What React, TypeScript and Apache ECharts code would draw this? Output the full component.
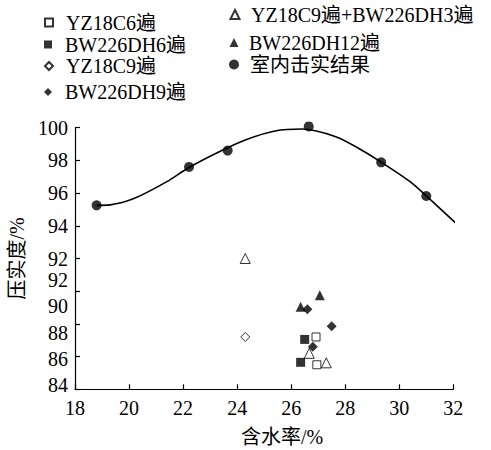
import React, { useEffect, useRef } from "react";
import * as echarts from "echarts";

// ---- data ----
const legendNames = [
  "YZ18C6遍",
  "BW226DH6遍",
  "YZ18C9遍",
  "BW226DH9遍",
  "YZ18C9遍+BW226DH3遍",
  "BW226DH12遍",
  "室内击实结果",
];

const yz18c6 = [
  [26.92, 87.2],
  [26.95, 85.5],
];
const bw226dh6 = [
  [26.5, 87.05],
  [26.35, 85.65],
];
const yz18c9 = [[24.3, 87.2]];
const bw226dh9 = [
  [26.6, 88.9],
  [27.5, 87.85],
  [26.8, 86.6],
];
const yz18c9bw3 = [
  [24.3, 92.0],
  [26.67, 86.2],
  [27.3, 85.62],
];
const bw226dh12 = [
  [26.35, 89.05],
  [27.06, 89.75],
];
const compaction = [
  [18.8, 95.25],
  [22.22, 97.6],
  [23.65, 98.6],
  [26.65, 100.08],
  [29.33, 97.88],
  [31.0, 95.82],
];
const fitCurve = [
  [18.8, 95.25],
  [19.3, 95.28],
  [20.2, 95.68],
  [21.4, 96.7],
  [22.2, 97.55],
  [23.3, 98.5],
  [24.3, 99.25],
  [25.4, 99.8],
  [26.4, 99.92],
  [27.65, 99.45],
  [28.6, 98.64],
  [29.4, 97.82],
  [30.4, 96.7],
  [31.1, 95.68],
  [32.1, 94.15],
];
const yTickLabels = ["100", "98", "96", "94", "92", "92", "90", "88", "86", "84"];
const xAxisName = "含水率/%";
const yAxisName = "压实度/%";

const FONT = '"Liberation Serif", "Noto Sans CJK SC", serif';

export default function App() {
  const ref = useRef<HTMLDivElement>(null);
  useEffect(() => {
    if (!ref.current) return;
    const chart = echarts.init(ref.current, null, { renderer: "svg" });

    const hollow = { color: "#fff", borderColor: "#000", borderWidth: 1 };
    const solid = { color: "#000", borderColor: "#000", borderWidth: 0 };

    const legendPos = [
      { cx: 48, cy: 22.5, size: 8, tx: 65 },
      { cx: 48, cy: 44.5, size: 8, tx: 65 },
      { cx: 48, cy: 66, size: 8, tx: 65 },
      { cx: 48, cy: 92, size: 8, tx: 65 },
      { cx: 234, cy: 14.5, size: 9, tx: 250 },
      { cx: 234, cy: 42.5, size: 9, tx: 249 },
      { cx: 234, cy: 64.5, size: 10, tx: 250 },
    ];
    const legends = legendNames.map((n, i) => {
      const p = legendPos[i];
      return {
        data: [n],
        left: p.cx - p.size / 2,
        top: p.cy - 10,
        itemWidth: p.size,
        itemHeight: p.size,
        padding: 0,
        selectedMode: false,
        textStyle: {
          fontFamily: FONT,
          fontSize: 20,
          color: "#000",
          lineHeight: 20,
          padding: [0, 0, 0, Math.max(0, p.tx - (p.cx + p.size / 2 + 5))],
        },
      };
    });

    const mk = (name: string, data: number[][], symbol: string, size: number, style: any) => ({
      type: "scatter",
      name,
      data,
      symbol,
      symbolSize: size,
      itemStyle: style,
      clip: false,
      z: 5,
    });

    chart.setOption({
      animation: false,
      backgroundColor: "#fff",
      legend: legends,
      grid: [
        { left: 75, top: 127.7, width: 378.3, height: 261.6, outerBoundsMode: "none", containLabel: false },
        { left: 75, top: 280, width: 378.3, height: 105, outerBoundsMode: "none", containLabel: false },
      ],
      xAxis: [
        {
          type: "value",
          gridIndex: 0,
          min: 18,
          max: 32,
          interval: 2,
          splitLine: { show: false },
          axisLine: { lineStyle: { color: "#000", width: 1.2 } },
          axisTick: { inside: true, length: 5, lineStyle: { color: "#000", width: 1.2 } },
          axisLabel: { fontFamily: FONT, fontSize: 20, color: "#000", margin: 9 },
          name: xAxisName,
          nameLocation: "middle",
          nameGap: 39,
          nameTextStyle: { fontFamily: FONT, fontSize: 20, color: "#000", lineHeight: 18, padding: [0, 0, 0, 36] },
        },
        { type: "value", gridIndex: 1, min: 18, max: 32, show: false },
      ],
      yAxis: [
        {
          type: "value",
          gridIndex: 0,
          min: 84,
          max: 100,
          interval: 2,
          splitLine: { show: false },
          axisLine: { lineStyle: { color: "#000", width: 1.2 } },
          axisTick: { inside: true, length: 5, lineStyle: { color: "#000", width: 1.2 } },
          axisLabel: {
            fontFamily: FONT,
            fontSize: 20,
            lineHeight: 17,
            color: "#000",
            margin: 7,
            formatter: (v: number) => {
              const i = Math.round((100 - v) / 2);
              return i <= 4 ? yTickLabels[i] : "";
            },
          },
          name: yAxisName,
          nameLocation: "middle",
          nameGap: 47,
          nameTextStyle: { fontFamily: FONT, fontSize: 20, color: "#000" },
        },
        {
          type: "value",
          gridIndex: 1,
          min: 84,
          max: 92,
          interval: 2,
          splitLine: { show: false },
          axisLine: { show: false },
          axisTick: { show: false },
          axisLabel: {
            fontFamily: FONT,
            fontSize: 20,
            lineHeight: 17,
            color: "#000",
            margin: 7,
            formatter: (v: number) => yTickLabels[5 + Math.round((92 - v) / 2)],
          },
        },
      ],
      series: [
        {
          type: "line",
          name: "拟合曲线",
          data: fitCurve,
          smooth: 0.3,
          showSymbol: false,
          symbol: "none",
          clip: false,
          lineStyle: { color: "#000", width: 1.6 },
          z: 2,
        },
        mk(legendNames[0], yz18c6, "rect", 8, hollow),
        mk(legendNames[1], bw226dh6, "rect", 9, solid),
        mk(legendNames[2], yz18c9, "diamond", 9, hollow),
        mk(legendNames[3], bw226dh9, "diamond", 10, solid),
        mk(legendNames[4], yz18c9bw3, "triangle", 10, hollow),
        mk(legendNames[5], bw226dh12, "triangle", 10, solid),
        mk(legendNames[6], compaction, "circle", 10, solid),
      ],
    });
    return () => chart.dispose();
  }, []);
  return (
    <div
      ref={ref}
      style={{ position: "fixed", left: 0, top: 0, width: 491, height: 450, background: "#fff" }}
    />
  );
}
